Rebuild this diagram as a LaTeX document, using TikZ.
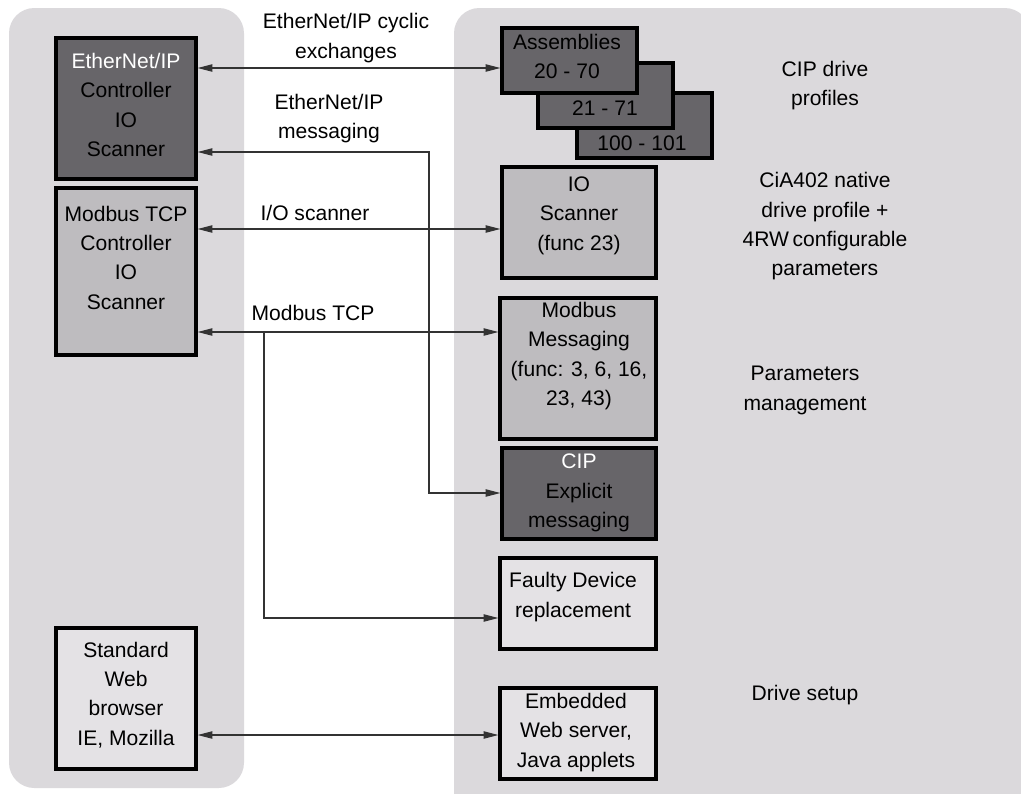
\documentclass[tikz,border=0pt]{standalone}
\usepackage{fontspec}
\setmainfont{Liberation Sans}
\usetikzlibrary{arrows.meta,fit}
\definecolor{panelgray}{HTML}{DBD9DC}
\definecolor{darkfill}{HTML}{676569}
\definecolor{midfill}{HTML}{BEBCBF}
\definecolor{lightfill}{HTML}{E4E2E5}
\definecolor{linegray}{HTML}{333333}
\tikzset{
  panel/.style={fill=panelgray, draw=none, rounded corners=19pt},
  boxbase/.style={draw=black, line width=2.5pt, inner sep=0pt},
  darkbox/.style={boxbase, fill=darkfill},
  midbox/.style={boxbase, fill=midfill},
  lightbox/.style={boxbase, fill=lightfill},
  txt/.style={align=center, inner sep=0pt, font=\fontsize{15.8}{22}\selectfont},
  biarrow/.style={draw=linegray, line width=0.8pt, {Triangle[length=11pt,width=5.5pt]}-{Triangle[length=11pt,width=5.5pt]}},
  onearrow/.style={draw=linegray, line width=0.8pt, -{Triangle[length=11pt,width=5.5pt]}}
}
\begin{document}
\begin{tikzpicture}[x=0.75pt,y=-0.75pt]
\useasboundingbox (0,0) rectangle (1021,793);
\clip (0,0) rectangle (1021,793);
\fill[white] (0,0) rectangle (1021,793);
% panels
\path[panel] (9,8) rectangle (244,788);
\path[panel] (454,8) rectangle (1030,830);

% left boxes
\node[darkbox, fit={(56,38) (196,179)}] (eip) {};
\node[midbox, fit={(56,188) (196,355)}] (mb) {};
\node[lightbox, fit={(56,628) (196,769)}] (web) {};
\node[txt] (eipT) at (126,105) {\textcolor{white}{EtherNet/IP}\\Controller\\IO\\Scanner};
\node[txt] (mbT) at (126,257.5) {Modbus TCP\\Controller\\IO\\Scanner};
\node[txt] (webT) at (126,695) {Standard\\Web\\browser\\IE, Mozilla};

% assemblies stack
\node[darkbox, fit={(577,93) (712,158)}] (a100) {};
\node[darkbox, fit={(538,63) (673,128)}] (a21) {};
\node[darkbox, fit={(502,28) (637,93)}] (asm) {};
\node[txt] (asmT) at (567,56.5) {Assemblies\\20 - 70};
\node[txt] (a21T) at (605,108) {21 - 71};
\node[txt] (a100T) at (642,143) {100 - 101};

% right boxes
\node[midbox, fit={(502,167) (656,278)}] (io) {};
\node[midbox, fit={(500,298) (656,439)}] (mm) {};
\node[darkbox, fit={(502,448) (656,539)}] (cip) {};
\node[lightbox, fit={(500,558) (656,649)}] (fd) {};
\node[lightbox, fit={(500,688) (656,779)}] (emb) {};
\node[txt] (ioT) at (579,215.5) {IO\\Scanner\\(func 23)};
\node[txt] (mmT) at (579,356) {Modbus\\Messaging\\(func: 3, 6, 16,\\23, 43)};
\node[txt] (cipT) at (579,493) {\textcolor{white}{CIP}\\Explicit\\messaging};
\node[txt] (fdT) at (573,597) {Faulty Device\\replacement};
\node[txt] (embT) at (576,732.5) {Embedded\\Web server,\\Java applets};

% side labels
\node[txt] (cipdp) at (825,85.5) {CIP drive\\profiles};
\node[txt] (cia) at (825,226.5) {CiA402 native\\drive profile +\\4RW\,configurable\\parameters};
\node[txt] (pm) at (805,390.5) {Parameters\\management};
\node[txt] (ds) at (805,695) {Drive setup};

% connector coordinates
\coordinate (c68) at (300,68);
\coordinate (m1) at (429,152);
\coordinate (m2) at (429,493);
\coordinate (c229) at (300,229);
\coordinate (c332) at (300,332);
\coordinate (b1) at (264,332);
\coordinate (b2) at (264,618);
\coordinate (c735) at (300,735);

% connectors
\draw[biarrow] (eip.east |- c68) -- (asm.west |- c68);
\draw[biarrow] (eip.east |- m1) -- (m1) -- (m2) -- (cip.west |- m2);
\draw[biarrow] (mb.east |- c229) -- (io.west |- c229);
\draw[biarrow] (mb.east |- c332) -- (mm.west |- c332);
\draw[onearrow] (b1) -- (b2) -- (fd.west |- b2);
\draw[biarrow] (web.east |- c735) -- (emb.west |- c735);

% arrow labels
\node[txt] (lcyc) at (346,38) {EtherNet/IP cyclic\\exchanges};
\node[txt] (lmsg) at (329,118.5) {EtherNet/IP\\messaging};
\node[txt] (lios) at (315,213) {I/O scanner};
\node[txt] (lmtcp) at (313,313) {Modbus TCP};
\end{tikzpicture}
\end{document}
